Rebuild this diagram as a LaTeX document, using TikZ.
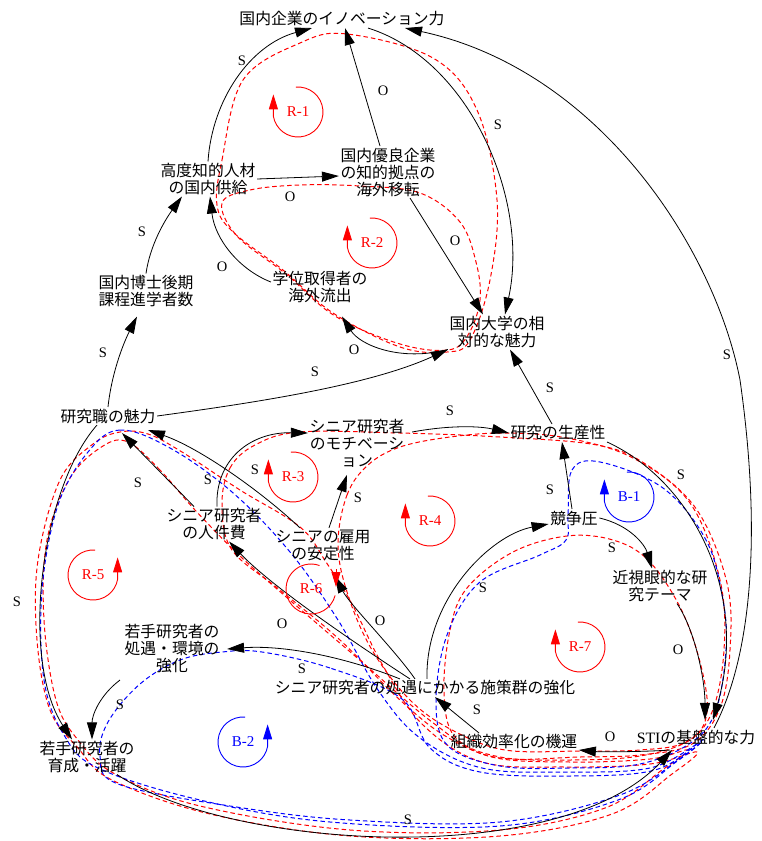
\documentclass[tikz,border=0pt]{standalone}
\usepackage{fontspec}
\setmainfont{Liberation Serif}
\newfontfamily\jp{Noto Sans CJK JP}
\usetikzlibrary{arrows.meta}
\newcommand\cldLeft[5]{%
  \draw[#3, line width=0.9pt, -{Triangle[length=15pt,width=9pt]}] (#1,#2) ++(95:25pt) arc[start angle=95, end angle=-170, radius=25pt] -- ++(0,-22);
  \node[looplab, text=#3] (#5) at (#1,#2) {#4};}
\newcommand\cldRight[5]{%
  \draw[#3, line width=0.9pt, -{Triangle[length=15pt,width=9pt]}] (#1,#2) ++(85:25pt) arc[start angle=85, end angle=350, radius=25pt] -- ++(0,-22);
  \node[looplab, text=#3] (#5) at (#1,#2) {#4};}
\newcommand\cldDown[5]{%
  \draw[#3, line width=0.9pt] (#1,#2) ++(-15:25pt) arc[start angle=-15, end angle=-290, radius=25pt];
  \draw[#3, line width=0.9pt, -{Triangle[length=15pt,width=9pt]}] (#1,#2) ++(25,-20) -- ++(0,18);
  \node[looplab, text=#3] (#5) at (#1,#2) {#4};}
\begin{document}
\begin{tikzpicture}[x=1pt,y=-1pt,
  nd/.style={font=\jp\fontsize{15.8}{17}\selectfont, align=center, inner sep=1.5pt},
  lab/.style={font=\fontsize{14.5}{15}\selectfont, inner sep=0pt},
  looplab/.style={font=\fontsize{15}{15}\selectfont, inner sep=0pt},
  arr/.style={-{Triangle[length=17pt,width=10pt]}, line width=0.8pt},
  rdash/.style={red, dash pattern=on 4.5pt off 3pt, line width=1pt},
  bdash/.style={blue, dash pattern=on 4.5pt off 3pt, line width=1pt},
]
\useasboundingbox (0,0) rectangle (761,841);
\fill[white] (0,0) rectangle (761,841);

% ---------- loop paths (dashed) ----------
\draw[rdash] plot[smooth cycle, tension=0.6] coordinates {(217,205) (222,160) (243,80) (300,43) (347,34) (433,58) (477,110) (497,200) (490,280) (470,340) (447,352) (400,347) (333,313) (283,270) (233,232)};
\draw[rdash] plot[smooth cycle, tension=0.6] coordinates {(222,203) (250,190) (300,185) (360,186) (420,193) (460,222) (476,262) (480,300) (468,335) (448,350) (400,344) (335,316) (286,274) (237,236)};
\draw[rdash] plot[smooth cycle, tension=0.6] coordinates {(222,505) (230,468) (255,445) (300,432) (400,433) (500,437) (597,445) (647,465) (697,510) (727,583) (730,650) (720,708) (692,744) (640,755) (580,757) (500,758) (447,737) (400,700) (340,640) (280,590) (232,550)};
\draw[rdash] plot[smooth cycle, tension=0.6] coordinates {(338,545) (347,495) (368,465) (400,447) (450,437) (505,433) (567,438) (633,458) (690,503) (720,580) (724,650) (712,712) (686,742) (640,750) (580,751) (505,750) (452,730) (410,700) (372,650) (348,595)};
\draw[rdash] plot[smooth cycle, tension=0.6] coordinates {(195,510) (160,470) (128,442) (103,446) (70,478) (47,540) (44,620) (56,700) (78,740) (115,774) (200,806) (350,830) (500,830) (605,808) (662,770) (688,750) (650,759) (570,762) (488,756) (432,722) (362,662) (292,602) (240,556)};
\draw[rdash] plot[smooth cycle, tension=0.6] coordinates {(300,527) (240,490) (182,452) (148,434) (120,432) (93,444) (60,480) (38,560) (37,640) (50,710) (78,748) (112,780) (210,814) (350,836) (500,836) (612,814) (672,774) (697,752) (650,764) (565,767) (482,762) (422,724) (382,664) (352,604) (326,562)};
\draw[rdash] plot[smooth cycle, tension=0.6] coordinates {(444,692) (450,630) (467,588) (513,552) (567,536) (613,540) (648,560) (680,607) (700,662) (707,712) (690,740) (640,756) (570,760) (500,757) (455,737)};
\draw[bdash] plot[smooth cycle, tension=0.6] coordinates {(170,448) (120,430) (88,452) (58,505) (42,590) (44,680) (64,735) (98,768) (200,800) (330,822) (500,826) (618,800) (676,762) (699,743) (650,768) (565,772) (482,768) (420,738) (378,690) (338,620) (290,552) (232,492)};
\draw[bdash] plot[smooth cycle, tension=0.6] coordinates {(402,699) (330,668) (262,652) (222,652) (180,660) (140,684) (108,722) (100,756) (118,784) (230,806) (350,820) (500,822) (620,795) (682,757) (702,740) (655,770) (570,776) (480,772) (430,748)};
\draw[bdash] plot[smooth cycle, tension=0.6] coordinates {(568,515) (572,470) (600,462) (663,488) (706,540) (723,600) (726,650) (716,710) (692,742) (640,764) (570,768) (500,766) (448,746) (436,702) (447,635) (480,582) (540,555) (566,540)};

% ---------- nodes ----------
\node[nd] (inno) at (342,19) {国内企業のイノベーション力};
\node[nd] (supply) at (208,179) {高度知的人材\\の国内供給};
\node[nd] (relo) at (388,172) {国内優良企業\\の知的拠点の\\海外移転};
\node[nd] (doc) at (146,291) {国内博士後期\\課程進学者数};
\node[nd] (outflow) at (320,287) {学位取得者の\\海外流出};
\node[nd] (univ) at (497,332) {国内大学の相\\対的な魅力};
\node[nd] (attr) at (108,416) {研究職の魅力};
\node[nd] (motiv) at (357,443) {シニア研究者\\のモチベーシ\\ョン};
\node[nd] (prod) at (558,433) {研究の生産性};
\node[nd] (cost) at (214,524) {シニア研究者\\の人件費};
\node[nd] (stab) at (323,545) {シニアの雇用\\の安定性};
\node[nd] (comp) at (574,518) {競争圧};
\node[nd] (myop) at (660,586) {近視眼的な研\\究テーマ};
\node[nd] (young) at (172,649) {若手研究者の\\処遇・環境の\\強化};
\node[nd] (policy) at (425,688) {シニア研究者の処遇にかかる施策群の強化};
\node[nd] (train) at (87,757) {若手研究者の\\育成・活躍};
\node[nd] (eff) at (514,742) {組織効率化の機運};
\node[nd] (sti) at (696,737) {{\rmfamily STI}の基盤的な力};

% ---------- connectors ----------
\draw[arr] (supply.north) .. controls (212,100) and (250,45) .. ([xshift=-30pt]inno.south);
\draw[arr] ([xshift=-8pt]relo.north) -- ([xshift=3pt]inno.south);
\draw[arr] ([xshift=26pt]inno.south) .. controls (470,60) and (530,200) .. ([xshift=8pt]univ.north);
\draw[arr] ([xshift=18pt]sti.north) .. controls (755,650) and (760,520) .. (740,380) .. controls (715,250) and (600,70) .. ([xshift=63pt]inno.south);
\draw[arr] (supply.east) -- ([yshift=-4pt]relo.west);
\draw[arr] ([xshift=22pt]relo.south) -- ([xshift=-14pt]univ.north);
\draw[arr] ([yshift=5pt]outflow.west) .. controls (240,270) and (215,240) .. ([xshift=2pt]supply.south);
\draw[arr] (univ.south west) .. controls (400,362) and (360,345) .. ([xshift=22pt,yshift=-12pt]outflow.south);
\draw[arr] (doc.north) .. controls (150,245) and (165,220) .. ([xshift=-26pt]supply.south);
\draw[arr] (attr.north) .. controls (112,370) and (125,340) .. ([xshift=-9pt,yshift=-8pt]doc.south);
\draw[arr] (attr.east) .. controls (260,402) and (370,385) .. (univ.south west);
\draw[arr] ([xshift=-6pt]prod.north) -- ([xshift=13pt]univ.south);
\draw[arr] ([xshift=6pt,yshift=11pt]motiv.east) .. controls (450,425) and (480,426) .. (prod.west);
\draw[arr] ([xshift=3pt]cost.north) .. controls (215,460) and (250,432) .. ([yshift=10pt]motiv.west);
\draw[arr] ([xshift=6pt]stab.north) -- ([xshift=-10pt,yshift=-6pt]motiv.south);
\draw[arr] ([xshift=-20pt]cost.north) -- ([xshift=14pt,yshift=-8pt]attr.south);
\draw[arr] ([xshift=-23pt]stab.north) .. controls (262,492) and (200,448) .. ([xshift=40pt,yshift=-5pt]attr.south);
\draw[arr] ([xshift=-15pt]policy.north) .. controls (350,640) and (270,585) .. ([xshift=15pt]cost.south);
\draw[arr] ([xshift=-10pt]policy.north) .. controls (395,650) and (350,605) .. ([xshift=12pt,yshift=-14pt]stab.south);
\draw[arr] ([xshift=-25pt]policy.north) .. controls (340,655) and (280,645) .. ([xshift=6pt]young.east);
\draw[arr] ([xshift=-52pt,yshift=-5pt]young.south) .. controls (100,695) and (92,715) .. ([xshift=5pt]train.north);
\draw[arr] ([xshift=-11pt]attr.south) .. controls (40,490) and (20,660) .. ([xshift=-15pt]train.north);
\draw[arr] ([xshift=30pt]train.south) .. controls (230,850) and (560,870) .. ([xshift=-24pt,yshift=-4pt]sti.south);
\draw[arr] (prod.south east) .. controls (690,480) and (750,590) .. ([xshift=17pt,yshift=8pt]sti.north);
\draw[arr] ([xshift=-2pt]comp.north) -- ([xshift=4pt]prod.south);
\draw[arr] (comp.east) .. controls (630,525) and (645,545) .. ([xshift=-8pt]myop.north);
\draw[arr] ([xshift=17pt]myop.south) .. controls (695,630) and (705,680) .. ([xshift=9pt,yshift=8pt]sti.north);
\draw[arr] ([xshift=2pt]policy.north) .. controls (425,600) and (490,535) .. ([yshift=-6pt]comp.west);
\draw[arr] ([xshift=-26pt,yshift=-4pt]sti.south) .. controls (640,752) and (600,752) .. ([yshift=-8pt]eff.east);
\draw[arr] ([xshift=-35pt]eff.north) -- ([xshift=10pt]policy.south);

% ---------- polarity labels ----------
\node[lab] (l1) at (242,61) {S};
\node[lab] (l2) at (383,91) {O};
\node[lab] (l3) at (498,125) {S};
\node[lab] (l4) at (727,355) {S};
\node[lab] (l5) at (290,197) {O};
\node[lab] (l6) at (455,241) {O};
\node[lab] (l7) at (222,267) {O};
\node[lab] (l8) at (354,350) {O};
\node[lab] (l9) at (142,232) {S};
\node[lab] (l10) at (103,353) {S};
\node[lab] (l11) at (315,372) {S};
\node[lab] (l12) at (550,388) {S};
\node[lab] (l13) at (450,411) {S};
\node[lab] (l14) at (208,480) {S};
\node[lab] (l15) at (255,470) {S};
\node[lab] (l16) at (358,498) {S};
\node[lab] (l17) at (138,483) {S};
\node[lab] (l18) at (282,624) {O};
\node[lab] (l19) at (380,621) {O};
\node[lab] (l20) at (302,669) {S};
\node[lab] (l21) at (120,705) {S};
\node[lab] (l22) at (17,602) {S};
\node[lab] (l23) at (408,820) {S};
\node[lab] (l24) at (681,475) {S};
\node[lab] (l25) at (550,490) {S};
\node[lab] (l26) at (612,548) {S};
\node[lab] (l27) at (678,650) {O};
\node[lab] (l28) at (483,588) {S};
\node[lab] (l29) at (610,737) {O};
\node[lab] (l30) at (477,710) {S};

% ---------- loop markers ----------
\cldLeft{298}{112}{red}{R-1}{mR1}
\cldLeft{372}{243}{red}{R-2}{mR2}
\cldLeft{293}{477}{red}{R-3}{mR3}
\cldLeft{430}{521}{red}{R-4}{mR4}
\cldRight{93}{575}{red}{R-5}{mR5}
\cldDown{311}{589}{red}{R-6}{mR6}
\cldLeft{580}{647}{red}{R-7}{mR7}
\cldLeft{629}{497}{blue}{B-1}{mB1}
\cldRight{243}{742}{blue}{B-2}{mB2}
\end{tikzpicture}
\end{document}
